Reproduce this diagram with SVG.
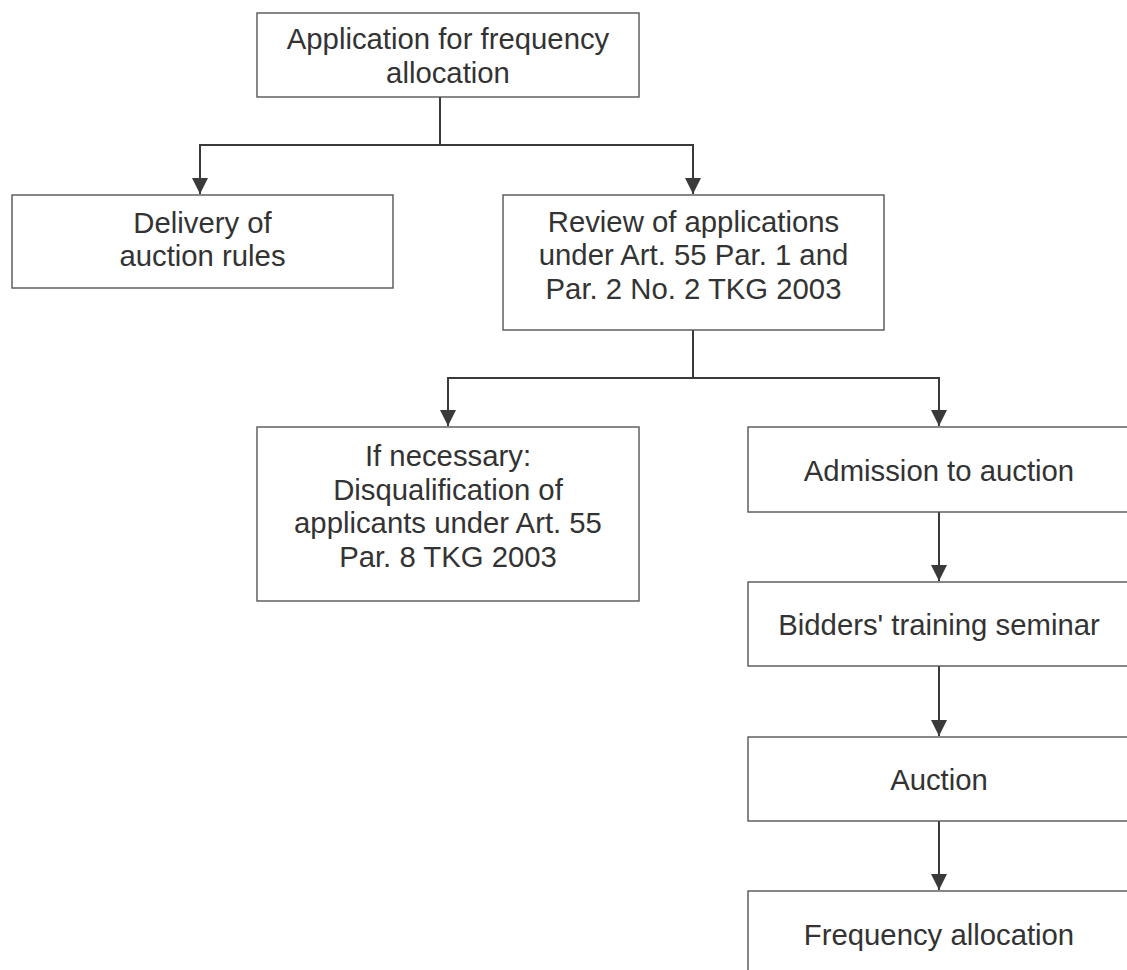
<svg xmlns="http://www.w3.org/2000/svg" width="1127" height="970" viewBox="0 0 1127 970">
<style>
.box{fill:#fff;stroke:#555;stroke-width:1.4}
.t{font-family:"Liberation Sans",Arial,sans-serif;font-size:29.3px;fill:#333;text-anchor:middle}
.c{fill:none;stroke:#3a3a3a;stroke-width:2}
</style>
<defs>
<marker id="ah" viewBox="0 0 10 10" refX="10" refY="5" markerWidth="16" markerHeight="16" markerUnits="userSpaceOnUse" orient="auto">
<path d="M0,0 L10,5 L0,10 z" fill="#3a3a3a"/>
</marker>
</defs>
<rect width="1127" height="970" fill="#fff"/>
<g id="connectors">
<path class="c" d="M440,97 V145 H200 V194" marker-end="url(#ah)"/>
<path class="c" d="M440,145 H693 V194" marker-end="url(#ah)"/>
<path class="c" d="M693,330 V378 H448 V426" marker-end="url(#ah)"/>
<path class="c" d="M693,378 H939 V426" marker-end="url(#ah)"/>
<path class="c" d="M939,512 V581" marker-end="url(#ah)"/>
<path class="c" d="M939,666 V736" marker-end="url(#ah)"/>
<path class="c" d="M939,821 V890" marker-end="url(#ah)"/>
</g>
<g id="n-application">
<rect class="box" x="257" y="13" width="382" height="84"/>
<text class="t" x="448" y="49">Application for frequency</text>
<text class="t" x="448" y="83">allocation</text>
</g>
<g id="n-delivery">
<rect class="box" x="12" y="195" width="381" height="93"/>
<text class="t" x="202.5" y="232.5">Delivery of</text>
<text class="t" x="202.5" y="266">auction rules</text>
</g>
<g id="n-review">
<rect class="box" x="503" y="195" width="381" height="135"/>
<text class="t" x="693.5" y="231.5">Review of applications</text>
<text class="t" x="693.5" y="265">under Art. 55 Par. 1 and</text>
<text class="t" x="693.5" y="298.5">Par. 2 No. 2 TKG 2003</text>
</g>
<g id="n-disqualification">
<rect class="box" x="257" y="427" width="382" height="174"/>
<text class="t" x="448" y="466">If necessary:</text>
<text class="t" x="448" y="499.5">Disqualification of</text>
<text class="t" x="448" y="533">applicants under Art. 55</text>
<text class="t" x="448" y="566.5">Par. 8 TKG 2003</text>
</g>
<g id="n-admission">
<rect class="box" x="748" y="427" width="382" height="85"/>
<text class="t" x="939" y="481">Admission to auction</text>
</g>
<g id="n-seminar">
<rect class="box" x="748" y="582" width="382" height="84"/>
<text class="t" x="939" y="635">Bidders' training seminar</text>
</g>
<g id="n-auction">
<rect class="box" x="748" y="737" width="382" height="84"/>
<text class="t" x="939" y="790">Auction</text>
</g>
<g id="n-allocation">
<rect class="box" x="748" y="891" width="382" height="85"/>
<text class="t" x="939" y="945">Frequency allocation</text>
</g>
</svg>
